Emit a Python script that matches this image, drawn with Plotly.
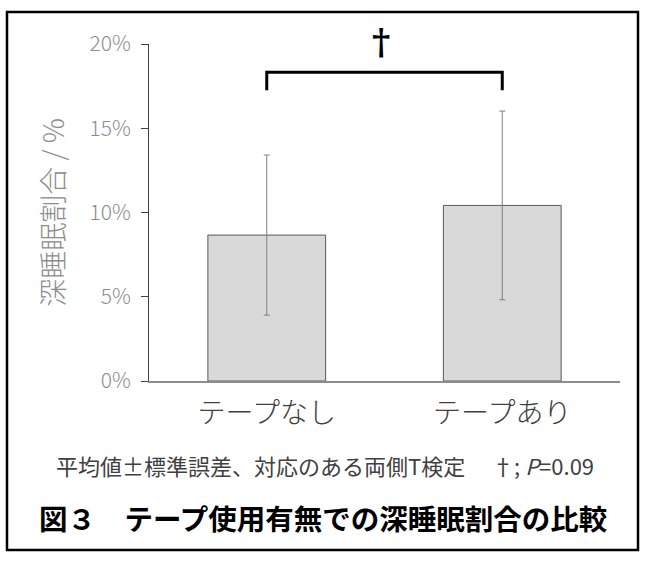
import plotly.graph_objects as go

categories = ["テープなし", "テープあり"]
means = [8.66, 10.42]
sems = [4.75, 5.6]
y_ticks = [0, 5, 10, 15, 20]
y_tick_labels = ["0%", "5%", "10%", "15%", "20%"]
y_max = 20
bracket_low = 17.26
bracket_high = 18.33
dagger_y = 20.12
note_text = "平均値±標準誤差、対応のある両側T検定　 †; <i>P</i>=0.09"
title_text = "図３　テープ使用有無での深睡眠割合の比較"
y_title = "深睡眠割合 / %"

FONT = "Noto Sans CJK JP"
W, H = 650, 563
L, R, T, B = 149, 30, 44, 182
pw = W - L - R
ph = H - T - B

def px_to_paper_x(px):
    return (px - L) / pw

def px_to_paper_y(py):
    return (H - B - py) / ph

fig = go.Figure()
fig.add_trace(go.Bar(
    x=categories, y=means,
    marker=dict(color="#d9d9d9", line=dict(color="#595959", width=1)),
    error_y=dict(type="data", array=sems, visible=True, color="#7f7f7f", thickness=1, width=3),
    width=0.5,
))

# significance bracket
fig.add_shape(type="path",
              path=f"M 0,{bracket_low} L 0,{bracket_high} L 1,{bracket_high} L 1,{bracket_low}",
              xref="x", yref="y", line=dict(color="black", width=3))
fig.add_annotation(x=0.5, y=dagger_y / y_max, xref="x", yref="paper", text="<b>†</b>", showarrow=False,
                   xshift=-4, yanchor="middle",
                   font=dict(family="DejaVu Serif", size=35, color="black"))

# outer frame
fig.add_shape(type="rect", xref="paper", yref="paper",
              x0=px_to_paper_x(7), x1=px_to_paper_x(638),
              y0=px_to_paper_y(550), y1=px_to_paper_y(12),
              line=dict(color="black", width=2.5))

fig.add_annotation(x=px_to_paper_x(325), y=px_to_paper_y(465), xref="paper", yref="paper",
                   text=note_text, showarrow=False, xanchor="center", yanchor="middle",
                   font=dict(family=FONT, size=22, color="#404040"))
fig.add_annotation(x=px_to_paper_x(323), y=px_to_paper_y(517), xref="paper", yref="paper",
                   text="<b>" + title_text + "</b>", showarrow=False, xanchor="center", yanchor="middle",
                   font=dict(family=FONT, size=28.5, color="black"))

fig.update_layout(
    width=W, height=H,
    margin=dict(l=L, r=R, t=T, b=B),
    paper_bgcolor="white", plot_bgcolor="white",
    showlegend=False,
    font=dict(family=FONT),
    xaxis=dict(
        showline=True, linecolor="#8c8c8c", linewidth=2,
        ticks="", showgrid=False, zeroline=False,
        tickfont=dict(family=FONT, size=28, color="#404040", weight=300),
        ticklabelstandoff=6,
    ),
    yaxis=dict(
        range=[0, y_max],
        tickvals=y_ticks, ticktext=y_tick_labels,
        showline=True, linecolor="#404040", linewidth=1,
        ticks="outside", ticklen=7, tickcolor="#404040", tickwidth=1,
        showgrid=False, zeroline=False,
        tickfont=dict(family=FONT, size=21, color="#8c8c8c", weight=300),
        ticklabelstandoff=6,
        title=dict(text=y_title, standoff=16,
                   font=dict(family=FONT, size=28, color="#8c8c8c", weight=300)),
    ),
)

fig.write_html("out.html")
